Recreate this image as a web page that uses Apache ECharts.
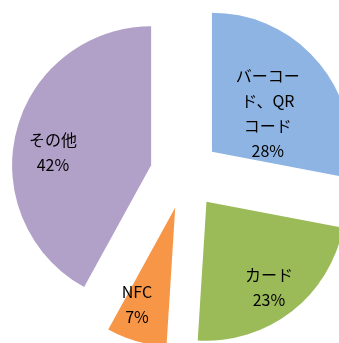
<!DOCTYPE html>
<html>
<head>
<meta charset="utf-8">
<script src="https://cdn.jsdelivr.net/npm/echarts@6/dist/echarts.min.js"></script>
<style>html,body{margin:0;padding:0;background:#fff;}#c{width:339px;height:343px;}</style>
</head>
<body>
<div id="c"></div>
<script>
const categories = ['バーコード、QRコード', 'カード', 'NFC', 'その他'];
const labelNames = ['バーコー\nド、QR\nコード', 'カード', 'NFC', 'その他'];
const values = [28, 23, 7, 42];
const colors = ['#8DB4E2', '#9BBB59', '#F79646', '#B1A0C7'];

const labelShift = [[0, 8], [18, 28], [-18, 27], [-28, 5]];

const chart = echarts.init(document.getElementById('c'), null, {renderer: 'canvas'});
chart.setOption({
  animation: false,
  series: [{
    type: 'pie',
    center: [185, 174],
    radius: [0, 139],
    startAngle: 90,
    clockwise: true,
    selectedMode: 'multiple',
    selectedOffset: 35,
    avoidLabelOverlap: false,
    emphasis: {disabled: true},
    select: {itemStyle: {}},
    label: {
      show: true,
      position: 'inside',
      color: '#000',
      fontFamily: '"Noto Sans CJK JP", "Noto Sans", sans-serif',
      fontSize: 16,
      lineHeight: 25,
      align: 'center',
      formatter: p => labelNames[p.dataIndex] + '\n' + p.percent + '%'
    },
    labelLayout: p => ({dx: labelShift[p.dataIndex][0], dy: labelShift[p.dataIndex][1]}),
    labelLine: {show: false},
    data: categories.map((n, i) => ({
      name: n,
      value: values[i],
      selected: true,
      itemStyle: {color: colors[i]}
    }))
  }]
});
</script>
</body>
</html>
